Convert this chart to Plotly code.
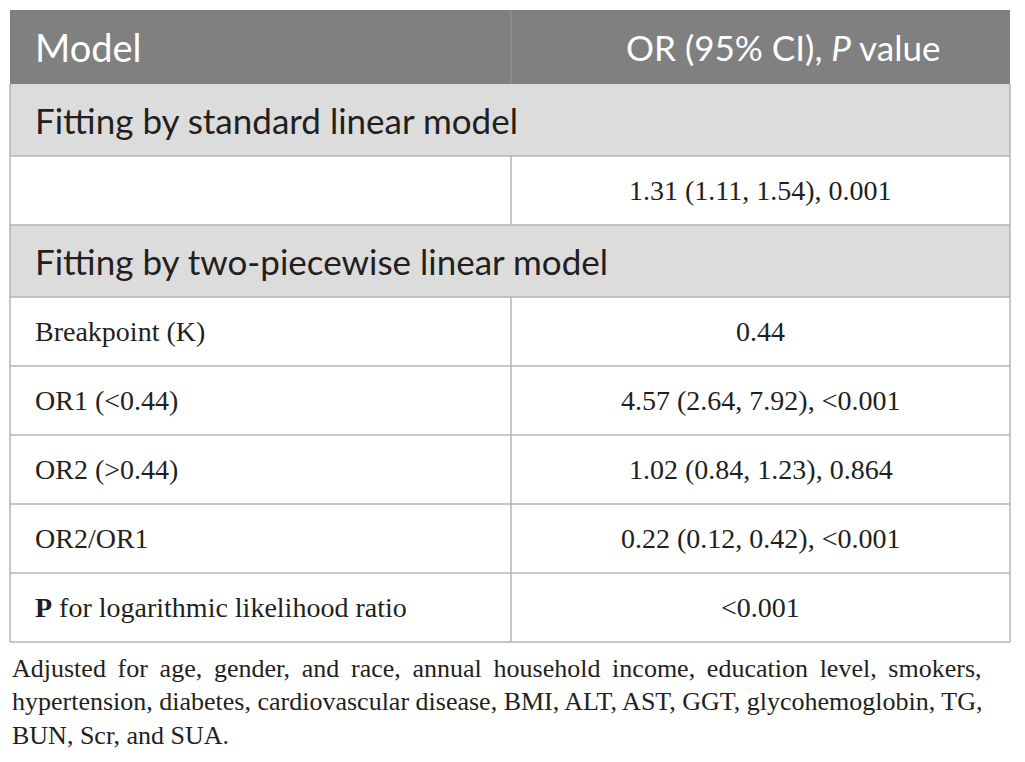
import plotly.graph_objects as go

# Table content
HEADERS = ["Model", "OR (95% CI), <i>P</i> value"]
SECTIONS = ["Fitting by standard linear model", "Fitting by two-piecewise linear model"]
ROW_LABELS = [
    "",
    "Breakpoint (K)",
    "OR1 (&lt;0.44)",
    "OR2 (&gt;0.44)",
    "OR2/OR1",
    "<b>P</b> for logarithmic likelihood ratio",
]
ROW_VALUES = [
    "1.31 (1.11, 1.54), 0.001",
    "0.44",
    "4.57 (2.64, 7.92), &lt;0.001",
    "1.02 (0.84, 1.23), 0.864",
    "0.22 (0.12, 0.42), &lt;0.001",
    "&lt;0.001",
]
# which section each body row belongs to
ROW_SECTION = [0, 1, 1, 1, 1, 1]
FOOTNOTE = [
    "Adjusted for age, gender, and race, annual household income, education level, smokers,",
    "hypertension, diabetes, cardiovascular disease, BMI, ALT, AST, GGT, glycohemoglobin, TG,",
    "BUN, Scr, and SUA.",
]
# extra word spacing to imitate the justified first line
FOOT_GAPS = ["\u2009 ", " ", " "]

# Layout (pixel space of the reference; the page body adds an 8px margin)
W, H = 1025, 762
PAGE_MARGIN = 8
LEFT, RIGHT, SPLIT = 10, 1010, 511
HEADER_TOP, HEADER_BOT = 10, 84
SECTION_H, ROW_H = 72, 69
HEADER_BG = "#808080"
SECTION_BG = "#dcdcdc"
GRID = "#b4b4b4"
TEXT = "#231f20"
SANS = "Lato"
SERIF = "Liberation Serif"

fig = go.Figure()
shapes = []
annotations = []

# header
shapes.append(dict(type="rect", x0=LEFT, x1=RIGHT, y0=HEADER_TOP, y1=HEADER_BOT,
                   fillcolor=HEADER_BG, line=dict(width=0), layer="below"))
shapes.append(dict(type="line", x0=SPLIT, x1=SPLIT, y0=HEADER_TOP, y1=HEADER_BOT,
                   line=dict(color="#949494", width=1)))
hy = (HEADER_TOP + HEADER_BOT) / 2
annotations.append(dict(x=33, y=hy, text=HEADERS[0], xanchor="left", yanchor="middle",
                        font=dict(family=SANS, size=38, color="white")))
annotations.append(dict(x=783, y=hy, text=HEADERS[1], xanchor="center", yanchor="middle",
                        font=dict(family=SANS, size=35, color="white")))

y = HEADER_BOT
current = -1
for label, value, sec in zip(ROW_LABELS, ROW_VALUES, ROW_SECTION):
    if sec != current:
        current = sec
        shapes.append(dict(type="rect", x0=LEFT, x1=RIGHT, y0=y, y1=y + SECTION_H,
                           fillcolor=SECTION_BG, line=dict(width=0), layer="below"))
        annotations.append(dict(x=33, y=y + SECTION_H / 2, text=SECTIONS[sec],
                                xanchor="left", yanchor="middle",
                                font=dict(family=SANS, size=35, color=TEXT)))
        y += SECTION_H
        shapes.append(dict(type="line", x0=LEFT, x1=RIGHT, y0=y, y1=y,
                           line=dict(color=GRID, width=1.5)))
    shapes.append(dict(type="line", x0=SPLIT, x1=SPLIT, y0=y, y1=y + ROW_H,
                       line=dict(color=GRID, width=1.5)))
    annotations.append(dict(x=33, y=y + ROW_H / 2, text=label, xanchor="left", yanchor="middle",
                            font=dict(family=SERIF, size=28, color=TEXT)))
    annotations.append(dict(x=(SPLIT + RIGHT) / 2, y=y + ROW_H / 2, text=value,
                            xanchor="center", yanchor="middle",
                            font=dict(family=SERIF, size=28, color=TEXT)))
    y += ROW_H
    shapes.append(dict(type="line", x0=LEFT, x1=RIGHT, y0=y, y1=y,
                       line=dict(color=GRID, width=1.5)))

# outer vertical borders
for xb in (LEFT, RIGHT):
    shapes.append(dict(type="line", x0=xb, x1=xb, y0=HEADER_BOT, y1=y,
                       line=dict(color=GRID, width=1.5)))

# footnote
for i, (line, gap) in enumerate(zip(FOOTNOTE, FOOT_GAPS)):
    annotations.append(dict(x=LEFT, y=668 + i * 33.5, text=gap.join(line.split(" ")),
                            xanchor="left", yanchor="middle",
                            font=dict(family=SERIF, size=26, color=TEXT)))

for a in annotations:
    a.update(xref="x", yref="y", showarrow=False)
for s in shapes:
    s.update(xref="x", yref="y")

fig.update_layout(
    width=W - 2 * PAGE_MARGIN,
    height=H - 2 * PAGE_MARGIN,
    margin=dict(l=0, r=0, t=0, b=0),
    paper_bgcolor="white",
    plot_bgcolor="white",
    shapes=shapes,
    annotations=annotations,
    showlegend=False,
)
fig.update_xaxes(range=[PAGE_MARGIN, W - PAGE_MARGIN], visible=False, fixedrange=True)
fig.update_yaxes(range=[H - PAGE_MARGIN, PAGE_MARGIN], visible=False, fixedrange=True)

fig.write_html("out.html")
